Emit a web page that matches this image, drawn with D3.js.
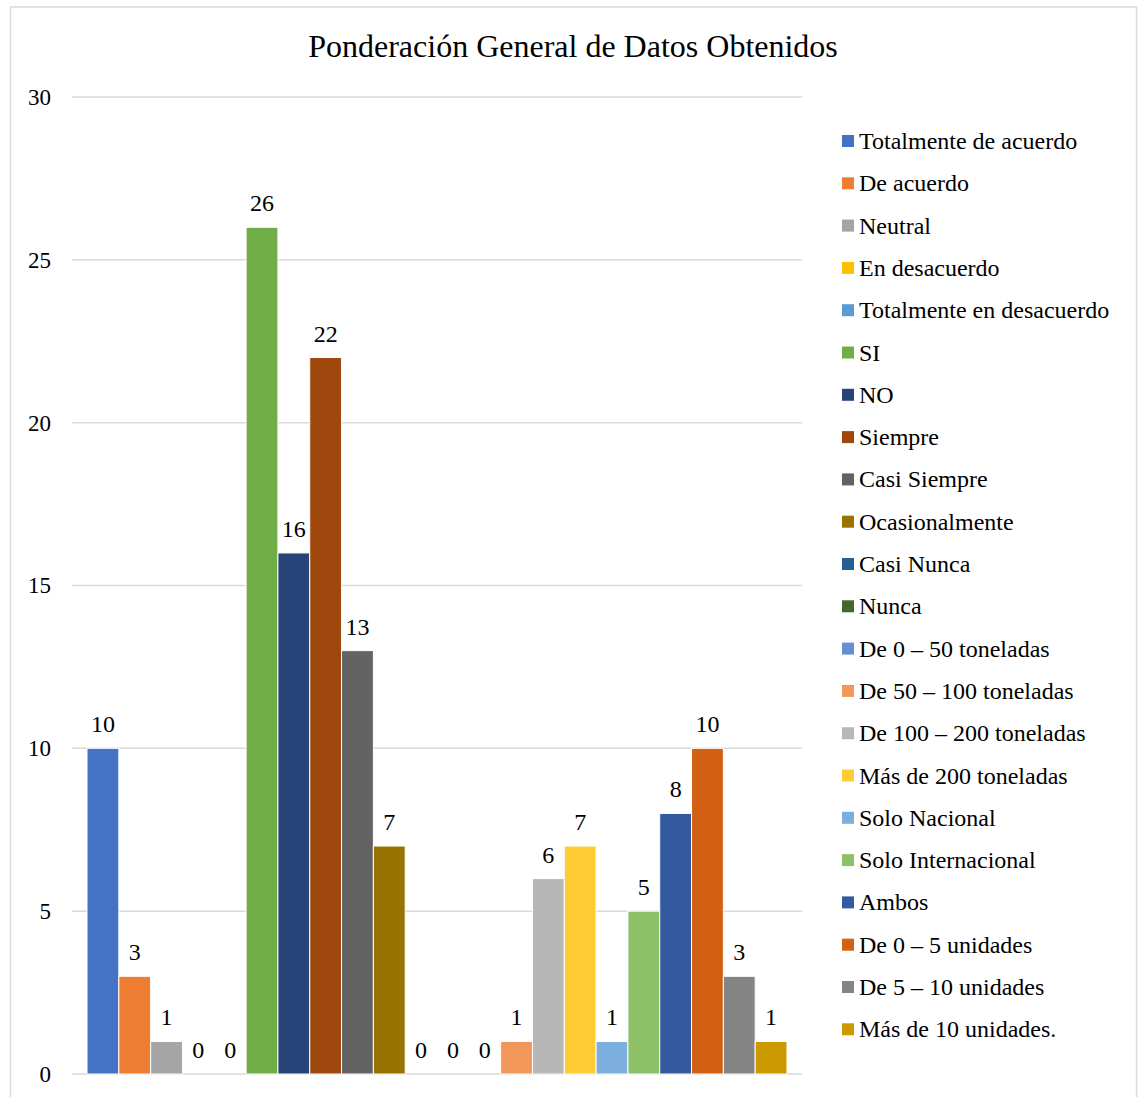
<!DOCTYPE html>
<html>
<head>
<meta charset="utf-8">
<script src="https://cdn.jsdelivr.net/npm/d3@7"></script>
<style>
  html, body { margin: 0; padding: 0; background: #fff; }
  svg { display: block; }
  text { font-family: "Liberation Serif", "Times New Roman", serif; fill: #000; }
</style>
</head>
<body>
<svg id="chart" width="1138" height="1097"></svg>
<script>
// Response categories (one series each)
const seriesNames = [
  "Totalmente de acuerdo", "De acuerdo", "Neutral", "En desacuerdo",
  "Totalmente en desacuerdo", "SI", "NO", "Siempre", "Casi Siempre",
  "Ocasionalmente", "Casi Nunca", "Nunca", "De 0 – 50 toneladas",
  "De 50 – 100 toneladas", "De 100 – 200 toneladas", "Más de 200 toneladas",
  "Solo Nacional", "Solo Internacional", "Ambos", "De 0 – 5 unidades",
  "De 5 – 10 unidades", "Más de 10 unidades."
];
// Counts obtained for each category
const seriesValues = [10, 3, 1, 0, 0, 26, 16, 22, 13, 7, 0, 0, 0, 1, 6, 7, 1, 5, 8, 10, 3, 1];
const seriesColors = [
  "#4472C4", "#ED7D31", "#A5A5A5", "#FFC000", "#5B9BD5", "#70AD47",
  "#264478", "#9E480E", "#636363", "#997300", "#255E91", "#43682B",
  "#698ED0", "#F1975A", "#B7B7B7", "#FFCD33", "#7CAFDD", "#8CC168",
  "#335AA1", "#D26012", "#848484", "#CC9A00"
];
const yTicks = [0, 5, 10, 15, 20, 25, 30];
const chartTitle = "Ponderación General de Datos Obtenidos";

const svg = d3.select("#chart");

// Outer chart frame
svg.append("rect")
  .attr("x", 10.5).attr("y", 7)
  .attr("width", 1126).attr("height", 1100)
  .attr("fill", "#fff")
  .attr("stroke", "#D9D9D9").attr("stroke-width", 1.5);

const plot = { left: 72, right: 802, top: 97, bottom: 1074 };

const y = d3.scaleLinear().domain([0, 30]).range([plot.bottom, plot.top]);
const x = d3.scaleBand().domain(seriesNames).range([87, 787]).paddingInner(0);

// Title
svg.append("text")
  .attr("x", 573).attr("y", 57)
  .attr("text-anchor", "middle")
  .style("font-size", "32px")
  .text(chartTitle);

// Gridlines
svg.append("g").selectAll("line")
  .data(yTicks)
  .join("line")
  .attr("x1", plot.left).attr("x2", plot.right)
  .attr("y1", d => y(d)).attr("y2", d => y(d))
  .attr("stroke", "#D9D9D9").attr("stroke-width", 1.5);

// Y axis labels
const yAxis = d3.axisLeft(y).tickValues(yTicks).tickSize(0).tickPadding(0);
const yg = svg.append("g")
  .attr("transform", `translate(51,0)`)
  .call(yAxis);
yg.select(".domain").remove();
yg.selectAll("text")
  .style("font-size", "23px")
  .style("font-family", "'Liberation Serif', 'Times New Roman', serif")
  .attr("fill", "#000");

// Bars
svg.append("g").selectAll("rect")
  .data(seriesNames)
  .join("rect")
  .attr("x", d => x(d))
  .attr("width", x.bandwidth())
  .attr("y", (d, i) => y(seriesValues[i]))
  .attr("height", (d, i) => y(0) - y(seriesValues[i]))
  .attr("fill", (d, i) => seriesColors[i])
  .attr("stroke", "#fff").attr("stroke-width", 1);

// Value labels
svg.append("g").selectAll("text")
  .data(seriesNames)
  .join("text")
  .attr("x", d => x(d) + x.bandwidth() / 2)
  .attr("y", (d, i) => y(seriesValues[i]) - 16)
  .attr("text-anchor", "middle")
  .style("font-size", "24px")
  .text((d, i) => seriesValues[i]);

// Legend
const legend = svg.append("g");
const legendTop = 141, legendStep = 42.3;
const items = legend.selectAll("g")
  .data(seriesNames)
  .join("g")
  .attr("transform", (d, i) => `translate(842,${legendTop + i * legendStep})`);
items.append("rect")
  .attr("x", 0).attr("y", -6)
  .attr("width", 12).attr("height", 12)
  .attr("fill", (d, i) => seriesColors[i]);
items.append("text")
  .attr("x", 17).attr("y", 8)
  .style("font-size", "24px")
  .text(d => d);
</script>
</body>
</html>
